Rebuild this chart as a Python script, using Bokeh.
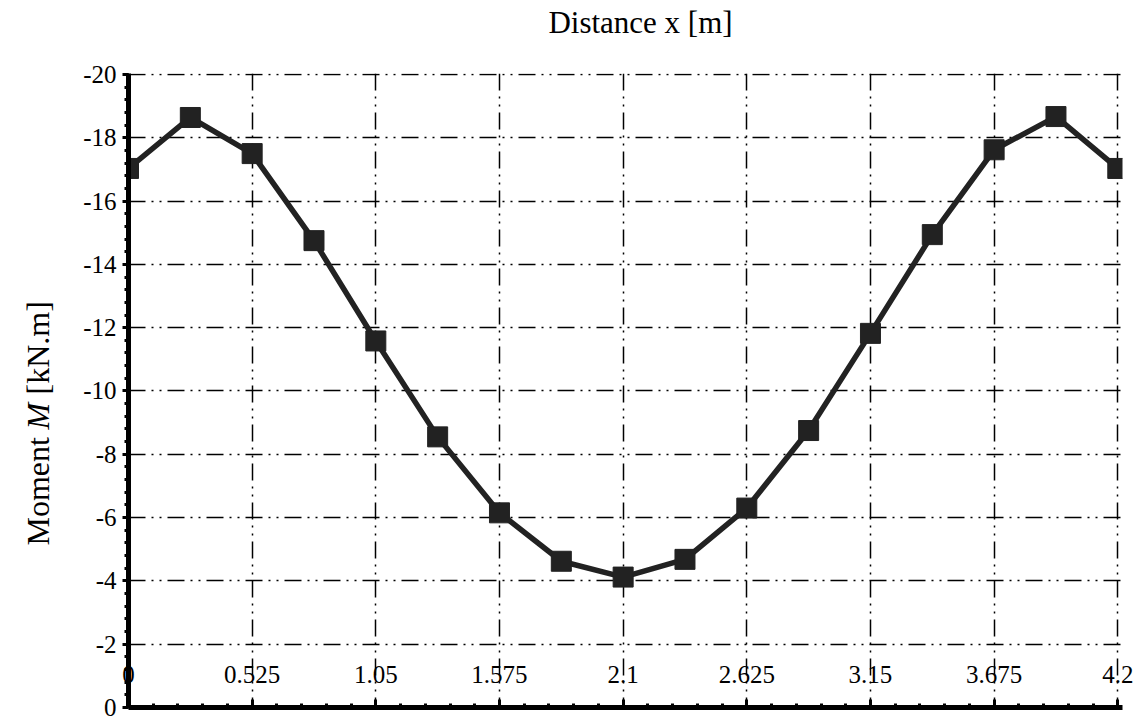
import math

from bokeh.embed import file_html
from bokeh.layouts import column, row
from bokeh.models import FixedTicker, Label, Range1d
from bokeh.plotting import figure
from bokeh.resources import INLINE

# Bending moment along the beam
distance_m = [0.0, 0.2625, 0.525, 0.7875, 1.05, 1.3125, 1.575, 1.8375, 2.1,
              2.3625, 2.625, 2.8875, 3.15, 3.4125, 3.675, 3.9375, 4.2]
moment_knm = [-17.03, -18.64, -17.50, -14.75, -11.58, -8.55, -6.15, -4.62, -4.12,
              -4.68, -6.30, -8.75, -11.82, -14.94, -17.62, -18.67, -17.03]

x_ticks = [0.0, 0.525, 1.05, 1.575, 2.1, 2.625, 3.15, 3.675, 4.2]
x_tick_labels = ["0", "0.525", "1.05", "1.575", "2.1", "2.625", "3.15", "3.675", "4.2"]
x_minor_ticks = [round(k * 0.105, 4) for k in range(41)]

y_ticks = [-20, -18, -16, -14, -12, -10, -8, -6, -4, -2, 0]
y_tick_labels = ["-20", "-18", "-16", "-14", "-12", "-10", "-8", "-6", "-4", "-2", "0"]
y_minor_ticks = [round(-k * 0.4, 4) for k in range(51)]

x_title = "Distance x [m]"
y_title_parts = [("Moment", "normal"), ("M", "italic"), ("[kN.m]", "normal")]

FONT = "Liberation Serif"
INK = "#222222"
GRID_DASH = "17 6 2 6 2 6"

W, H = 1141, 720
TOP_H = 50      # strip holding the horizontal title
LEFT_W = 70     # strip holding the vertical title


def text_strip(width, height):
    """A bare canvas (no axes, no grid) used to hold free text."""
    f = figure(width=width, height=height, output_backend="svg", toolbar_location=None,
               x_axis_type=None, y_axis_type=None, min_border=0,
               x_range=Range1d(0, 1), y_range=Range1d(0, 1))
    f.outline_line_color = None
    f.background_fill_color = "white"
    f.border_fill_color = "white"
    return f


# main chart
p = figure(width=W - LEFT_W, height=H - TOP_H, output_backend="svg", toolbar_location=None,
           x_range=Range1d(0, 4.22), y_range=Range1d(0, -20.03),
           min_border_left=128 - LEFT_W, min_border_right=19, min_border_top=73 - TOP_H,
           min_border_bottom=13)
p.outline_line_color = None
p.background_fill_color = "white"
p.border_fill_color = "white"

xa = p.xaxis[0]
xa.ticker = FixedTicker(ticks=x_ticks, minor_ticks=x_minor_ticks)
xa.major_label_overrides = {t: s for t, s in zip(x_ticks, x_tick_labels)}
xa.axis_line_width = 5
xa.axis_line_color = "black"
xa.major_tick_in = 8
xa.major_tick_out = 0
xa.minor_tick_in = 4
xa.minor_tick_out = 0
xa.major_tick_line_width = 3
xa.minor_tick_line_width = 3
xa.major_label_standoff = -42
xa.major_label_text_font = FONT
xa.major_label_text_font_size = "25px"
xa.major_label_text_color = "black"

ya = p.yaxis[0]
ya.ticker = FixedTicker(ticks=y_ticks, minor_ticks=y_minor_ticks)
ya.major_label_overrides = {t: s for t, s in zip(y_ticks, y_tick_labels)}
ya.axis_line_width = 5
ya.axis_line_color = "black"
ya.major_tick_in = 0
ya.major_tick_out = 6
ya.minor_tick_in = 0
ya.minor_tick_out = 4
ya.major_tick_line_width = 3
ya.minor_tick_line_width = 3
ya.major_label_standoff = 6
ya.major_label_text_font = FONT
ya.major_label_text_font_size = "25px"
ya.major_label_text_color = "black"

# dash-dot-dot grid
for g in (p.xgrid[0], p.ygrid[0]):
    g.grid_line_color = "black"
    g.grid_line_width = 1.5
    g.grid_line_dash = GRID_DASH
p.xgrid[0].ticker = xa.ticker
p.ygrid[0].ticker = ya.ticker

# moment curve
p.line(distance_m, moment_knm, line_color=INK, line_width=5.5)
p.scatter(distance_m, moment_knm, marker="square", size=20,
          fill_color=INK, line_color=INK, line_width=1)

# horizontal title strip
top = text_strip(W, TOP_H)
top.add_layout(Label(x=640, y=TOP_H - 22, x_units="screen", y_units="screen",
                     text=x_title, text_align="center", text_baseline="alphabetic",
                     text_font=FONT, text_font_size="31px", text_color="black"))

# vertical title strip; the symbol M is set in italics.
# The strip's frame lines up with the chart's frame, so offsets run from its bottom.
left = text_strip(LEFT_W, H - TOP_H)
y_title_starts = [162, 278, 313]
for (txt, style), start in zip(y_title_parts, y_title_starts):
    left.add_layout(Label(x=37, y=start, x_units="screen", y_units="screen", text=txt,
                          angle=math.pi / 2, text_align="left", text_baseline="middle",
                          text_font=FONT, text_font_size="32px", text_font_style=style,
                          text_color="black"))

layout = column(top, row(left, p, spacing=0), spacing=0)
open("out.html", "w").write(file_html(layout, INLINE))
